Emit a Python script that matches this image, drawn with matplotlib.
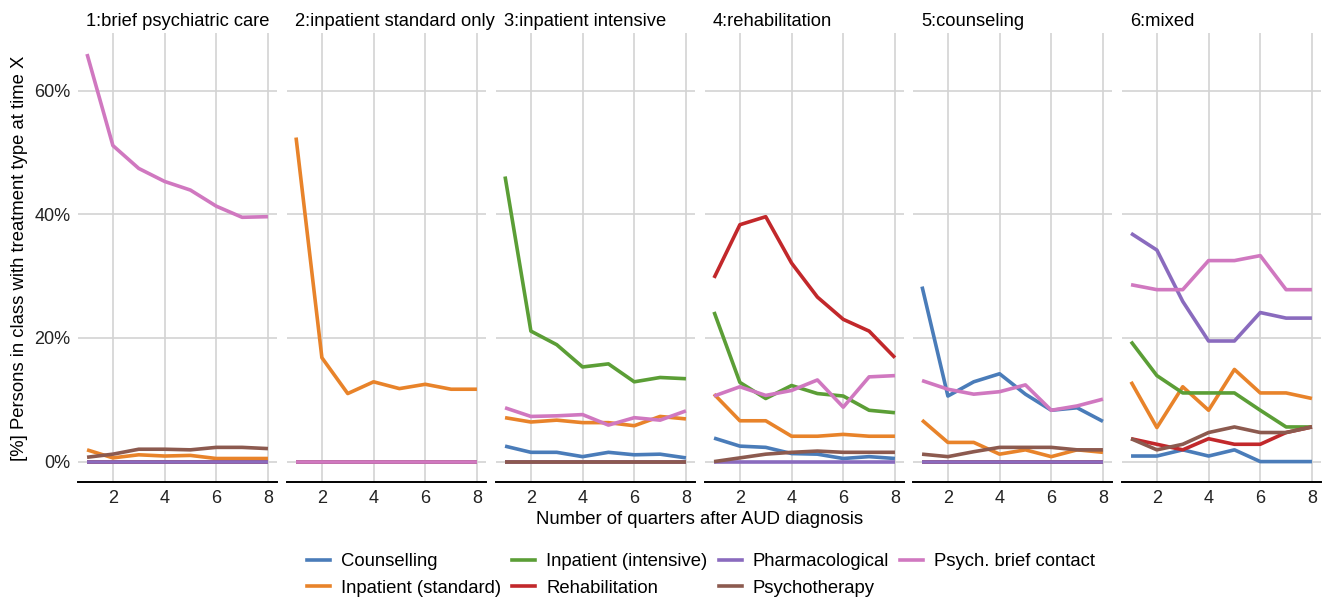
import matplotlib
matplotlib.use("Agg")
import matplotlib.pyplot as plt
from matplotlib.lines import Line2D

plt.rcParams['font.family'] = ['Liberation Sans', 'DejaVu Sans']

quarters = [1, 2, 3, 4, 5, 6, 7, 8]
panels = ["1:brief psychiatric care", "2:inpatient standard only", "3:inpatient intensive",
          "4:rehabilitation", "5:counseling", "6:mixed"]
series = ["Counselling", "Inpatient (standard)", "Inpatient (intensive)", "Rehabilitation",
          "Pharmacological", "Psychotherapy", "Psych. brief contact"]
colors = {"Counselling": "#4A7CB9", "Inpatient (standard)": "#E8832A",
          "Inpatient (intensive)": "#5B9E36", "Rehabilitation": "#C2282B",
          "Pharmacological": "#8A6BBE", "Psychotherapy": "#8C5A4F",
          "Psych. brief contact": "#D078C0"}

Z = [0, 0, 0, 0, 0, 0, 0, 0]

p1 = {
    "Counselling": Z,
    "Inpatient (standard)": [1.9, 0.6, 1.1, 0.9, 1.0, 0.5, 0.5, 0.5],
    "Inpatient (intensive)": Z,
    "Rehabilitation": Z,
    "Pharmacological": Z,
    "Psychotherapy": [0.7, 1.2, 2.0, 2.0, 1.9, 2.3, 2.3, 2.1],
    "Psych. brief contact": [65.9, 51.1, 47.4, 45.3, 43.9, 41.3, 39.5, 39.6],
}
p2 = {
    "Counselling": Z,
    "Inpatient (standard)": [52.4, 16.8, 11.0, 12.9, 11.8, 12.5, 11.7, 11.7],
    "Inpatient (intensive)": Z,
    "Rehabilitation": Z,
    "Pharmacological": Z,
    "Psychotherapy": Z,
    "Psych. brief contact": Z,
}
p3 = {
    "Counselling": [2.5, 1.5, 1.5, 0.8, 1.5, 1.1, 1.2, 0.6],
    "Inpatient (standard)": [7.1, 6.4, 6.7, 6.3, 6.3, 5.8, 7.3, 6.9],
    "Inpatient (intensive)": [46.1, 21.1, 18.9, 15.3, 15.8, 12.9, 13.6, 13.4],
    "Rehabilitation": Z,
    "Pharmacological": Z,
    "Psychotherapy": Z,
    "Psych. brief contact": [8.7, 7.3, 7.4, 7.6, 5.9, 7.1, 6.7, 8.2],
}
p4 = {
    "Counselling": [3.8, 2.5, 2.3, 1.3, 1.2, 0.5, 0.8, 0.5],
    "Inpatient (standard)": [10.9, 6.6, 6.6, 4.1, 4.1, 4.4, 4.1, 4.1],
    "Inpatient (intensive)": [24.2, 12.8, 10.2, 12.3, 11.0, 10.6, 8.3, 7.9],
    "Rehabilitation": [29.7, 38.3, 39.6, 32.1, 26.6, 23.0, 21.1, 16.8],
    "Pharmacological": Z,
    "Psychotherapy": [0.0, 0.6, 1.2, 1.5, 1.7, 1.5, 1.5, 1.5],
    "Psych. brief contact": [10.6, 12.1, 10.7, 11.5, 13.2, 8.8, 13.7, 13.9],
}
p5 = {
    "Counselling": [28.3, 10.6, 12.9, 14.2, 10.9, 8.3, 8.7, 6.5],
    "Inpatient (standard)": [6.7, 3.1, 3.1, 1.2, 1.9, 0.8, 1.9, 1.5],
    "Inpatient (intensive)": Z,
    "Rehabilitation": Z,
    "Pharmacological": Z,
    "Psychotherapy": [1.2, 0.8, 1.6, 2.3, 2.3, 2.3, 1.9, 1.9],
    "Psych. brief contact": [13.1, 11.7, 10.9, 11.3, 12.4, 8.3, 9.0, 10.1],
}
p6 = {
    "Counselling": [0.9, 0.9, 1.9, 0.9, 1.9, 0.0, 0.0, 0.0],
    "Inpatient (standard)": [12.9, 5.5, 12.1, 8.3, 14.9, 11.1, 11.1, 10.2],
    "Inpatient (intensive)": [19.4, 13.9, 11.1, 11.1, 11.1, 8.3, 5.6, 5.6],
    "Rehabilitation": [3.7, 2.8, 1.9, 3.7, 2.8, 2.8, 4.7, 5.6],
    "Pharmacological": [36.9, 34.2, 25.9, 19.5, 19.5, 24.1, 23.2, 23.2],
    "Psychotherapy": [3.7, 1.9, 2.8, 4.7, 5.6, 4.7, 4.7, 5.6],
    "Psych. brief contact": [28.6, 27.8, 27.8, 32.5, 32.5, 33.3, 27.8, 27.8],
}
data = [p1, p2, p3, p4, p5, p6]

W, H = 1328, 598
fig = plt.figure(figsize=(W / 100, H / 100), dpi=100)

lefts = [78, 287, 496, 705, 913, 1122]
pw = 199
top_px, bot_px = 33, 482
axes = []
for i, (name, d) in enumerate(zip(panels, data)):
    ax = fig.add_axes([lefts[i] / W, 1 - bot_px / H, pw / W, (bot_px - top_px) / H])
    axes.append(ax)
    for s in series:
        ax.plot(quarters, d[s], color=colors[s], lw=2.6, solid_capstyle='butt', zorder=3)
    ax.set_xlim(0.65, 8.35)
    ax.set_ylim(-3.3, 69.3)
    ax.set_xticks([2, 4, 6, 8])
    ax.set_yticks([0, 20, 40, 60])
    ax.grid(True, color='#D3D3D3', lw=1.2, zorder=0)
    for sp in ['top', 'right', 'left']:
        ax.spines[sp].set_visible(False)
    ax.spines['bottom'].set_color('black')
    ax.spines['bottom'].set_linewidth(1.4)
    ax.tick_params(axis='both', length=0, labelsize=13, colors='#222222', pad=5.5)
    if i == 0:
        ax.set_yticklabels(["0%", "20%", "40%", "60%"])
    else:
        ax.set_yticklabels([])
    ax.set_title(name, loc='left', fontsize=13.2, pad=5, color='black', x=8 / pw)

fig.text(20 / W, 1 - 258 / H, "[%] Persons in class with treatment type at time X",
         rotation=90, ha='center', va='center', fontsize=13.3)
fig.text(700 / W, 1 - 520 / H, "Number of quarters after AUD diagnosis",
         ha='center', va='center', fontsize=13.3)

handles = [Line2D([0], [0], color=colors[s], lw=2.6) for s in series]
leg = fig.legend(handles, series, ncol=4, loc='center', bbox_to_anchor=(701 / W, 1 - 575 / H),
                 frameon=False, fontsize=13.3, handlelength=1.25, columnspacing=0.6,
                 handletextpad=0.6, labelspacing=0.5, borderpad=0.2)

fig.savefig("out.png", dpi=100)
